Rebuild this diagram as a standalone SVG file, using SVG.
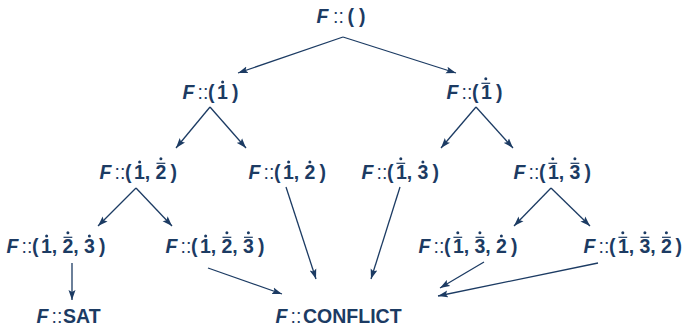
<svg xmlns="http://www.w3.org/2000/svg" xmlns:xlink="http://www.w3.org/1999/xlink" width="685" height="327" viewBox="0 0 685 327">
<style>
.t{font-family:"Liberation Sans",Arial,Helvetica,sans-serif;font-size:19.5px;font-weight:700;fill:#1c3b63}
.i{font-style:italic}
.c{font-weight:400}
.e{stroke:#1c3b63;stroke-width:1.3;fill:none;marker-end:url(#ah)}
.dc{fill:#1c3b63;stroke:#1c3b63;stroke-width:1.2}
</style>
<defs>
<marker id="ah" markerUnits="userSpaceOnUse" markerWidth="11" markerHeight="8" refX="10" refY="4" orient="auto">
<path d="M0,0.5 L10,4 L0,7.5 L2,4 z" fill="#1c3b63"/>
</marker>
<circle id="dt" r="1.5" stroke="none"/>
<g id="bd"><line x1="-4.4" y1="0" x2="4.4" y2="0" fill="none"/><circle cx="0" cy="-4.5" r="1.5" stroke="none"/></g>
</defs>
<rect width="685" height="327" fill="#ffffff"/>
<g id="connectors">
<line class="e" x1="343" y1="37" x2="238" y2="73"/>
<line class="e" x1="343" y1="37" x2="456" y2="73"/>
<line class="e" x1="210" y1="107" x2="176" y2="148"/>
<line class="e" x1="210" y1="107" x2="246" y2="148"/>
<line class="e" x1="476" y1="107" x2="441" y2="148"/>
<line class="e" x1="476" y1="107" x2="513" y2="148"/>
<line class="e" x1="136" y1="188" x2="98" y2="226"/>
<line class="e" x1="136" y1="188" x2="172" y2="226"/>
<line class="e" x1="286" y1="187" x2="316" y2="279"/>
<line class="e" x1="400" y1="187" x2="371" y2="279"/>
<line class="e" x1="551" y1="188" x2="514" y2="226"/>
<line class="e" x1="551" y1="188" x2="590" y2="226"/>
<line class="e" x1="72" y1="263" x2="72" y2="300"/>
<line class="e" x1="208" y1="268" x2="282" y2="294"/>
<line class="e" x1="484" y1="262" x2="440" y2="288"/>
<line class="e" x1="598" y1="263" x2="438" y2="296"/>
</g>
<g id="n_root">
<text class="t" y="23"><tspan class="i" x="316.5">F</tspan><tspan class="c" x="333">::</tspan><tspan x="347.5">(</tspan><tspan x="359">)</tspan></text>
</g>
<g id="n_1">
<text class="t" y="99"><tspan class="i" x="182.5">F</tspan><tspan class="c" x="197.5">::</tspan><tspan x="208">(</tspan><tspan x="217">1</tspan><tspan x="232">)</tspan></text>
<g class="dc"><use xlink:href="#dt" x="222.6" y="82"/></g>
</g>
<g id="n_1b">
<text class="t" y="99"><tspan class="i" x="446.5">F</tspan><tspan class="c" x="461.5">::</tspan><tspan x="472">(</tspan><tspan x="481">1</tspan><tspan x="496">)</tspan></text>
<g class="dc"><use xlink:href="#bd" x="485.8" y="83.3"/></g>
</g>
<g id="n_12">
<text class="t" y="179"><tspan class="i" x="99.5">F</tspan><tspan class="c" x="114.5">::</tspan><tspan x="125">(</tspan><tspan x="134">1,</tspan><tspan x="155.5">2</tspan><tspan x="170.5">)</tspan></text>
<g class="dc"><use xlink:href="#dt" x="139.6" y="162"/><use xlink:href="#bd" x="160.9" y="163.3"/></g>
</g>
<g id="n_12d">
<text class="t" y="179"><tspan class="i" x="248.5">F</tspan><tspan class="c" x="263.5">::</tspan><tspan x="274">(</tspan><tspan x="283">1,</tspan><tspan x="304.5">2</tspan><tspan x="319.5">)</tspan></text>
<g class="dc"><use xlink:href="#dt" x="288.6" y="162"/><use xlink:href="#dt" x="309.9" y="162"/></g>
</g>
<g id="n_1b3">
<text class="t" y="179"><tspan class="i" x="361.5">F</tspan><tspan class="c" x="376.5">::</tspan><tspan x="387">(</tspan><tspan x="396">1,</tspan><tspan x="417.5">3</tspan><tspan x="432.5">)</tspan></text>
<g class="dc"><use xlink:href="#bd" x="400.8" y="163.3"/><use xlink:href="#dt" x="422.9" y="162"/></g>
</g>
<g id="n_1b3b">
<text class="t" y="179"><tspan class="i" x="513.5">F</tspan><tspan class="c" x="528.5">::</tspan><tspan x="539">(</tspan><tspan x="548">1,</tspan><tspan x="569.5">3</tspan><tspan x="584.5">)</tspan></text>
<g class="dc"><use xlink:href="#bd" x="552.8" y="163.3"/><use xlink:href="#bd" x="574.9" y="163.3"/></g>
</g>
<g id="n_123">
<text class="t" y="253"><tspan class="i" x="6.5">F</tspan><tspan class="c" x="21.5">::</tspan><tspan x="32">(</tspan><tspan x="41">1,</tspan><tspan x="62.5">2,</tspan><tspan x="84">3</tspan><tspan x="99">)</tspan></text>
<g class="dc"><use xlink:href="#dt" x="46.6" y="236"/><use xlink:href="#bd" x="67.9" y="237.3"/><use xlink:href="#dt" x="89.4" y="236"/></g>
</g>
<g id="n_123b">
<text class="t" y="253"><tspan class="i" x="165.5">F</tspan><tspan class="c" x="180.5">::</tspan><tspan x="191">(</tspan><tspan x="200">1,</tspan><tspan x="221.5">2,</tspan><tspan x="243">3</tspan><tspan x="258">)</tspan></text>
<g class="dc"><use xlink:href="#dt" x="205.6" y="236"/><use xlink:href="#bd" x="226.9" y="237.3"/><use xlink:href="#bd" x="248.4" y="237.3"/></g>
</g>
<g id="n_132">
<text class="t" y="253"><tspan class="i" x="418.5">F</tspan><tspan class="c" x="433.5">::</tspan><tspan x="444">(</tspan><tspan x="453">1,</tspan><tspan x="474.5">3,</tspan><tspan x="496">2</tspan><tspan x="511">)</tspan></text>
<g class="dc"><use xlink:href="#bd" x="457.8" y="237.3"/><use xlink:href="#bd" x="479.9" y="237.3"/><use xlink:href="#dt" x="501.4" y="236"/></g>
</g>
<g id="n_132b">
<text class="t" y="253"><tspan class="i" x="583.5">F</tspan><tspan class="c" x="598.5">::</tspan><tspan x="609">(</tspan><tspan x="618">1,</tspan><tspan x="639.5">3,</tspan><tspan x="661">2</tspan><tspan x="675.5">)</tspan></text>
<g class="dc"><use xlink:href="#bd" x="622.8" y="237.3"/><use xlink:href="#bd" x="644.9" y="237.3"/><use xlink:href="#bd" x="666.4" y="237.3"/></g>
</g>
<g id="n_sat">
<text class="t" y="323"><tspan class="i" x="36.5">F</tspan><tspan class="c" x="51.5">::</tspan><tspan x="63">SAT</tspan></text>
</g>
<g id="n_conflict">
<text class="t" y="323"><tspan class="i" x="275.5">F</tspan><tspan class="c" x="290.5">::</tspan><tspan x="303">CONFLICT</tspan></text>
</g>
</svg>
